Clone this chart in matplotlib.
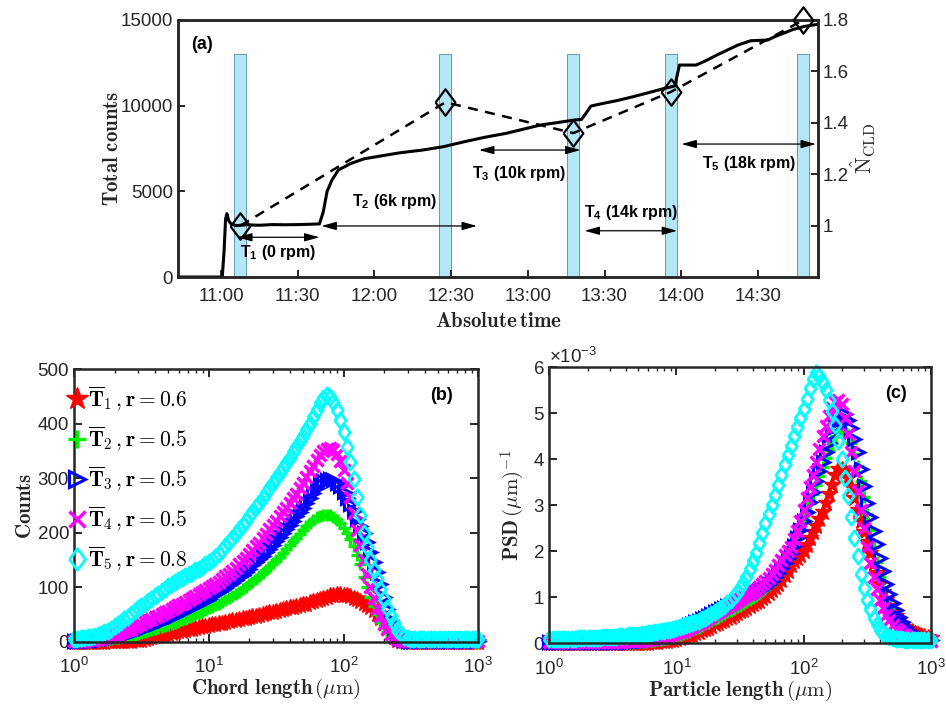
import matplotlib
matplotlib.use('Agg')
import matplotlib.pyplot as plt
from matplotlib.font_manager import FontProperties
from matplotlib.ticker import LogLocator, NullFormatter, ScalarFormatter

plt.rcParams['font.family'] = ['Liberation Sans', 'DejaVu Sans']
plt.rcParams['mathtext.fontset'] = 'custom'
plt.rcParams['mathtext.rm'] = 'Liberation Sans'
plt.rcParams['mathtext.it'] = 'Liberation Sans:italic'
plt.rcParams['mathtext.bf'] = 'Liberation Sans:bold'

# ---------------- Panel (a) data ----------------
time_ticks = [0, 30, 60, 90, 120, 150, 180, 210]          # minutes after 11:00
time_labels = ['11:00', '11:30', '12:00', '12:30', '13:00', '13:30', '14:00', '14:30']

count_time = [-17, 0.5, 1.2, 1.8, 2.3, 3.0, 4.0, 6, 10, 15, 20, 25, 30, 35, 38.5,
              40, 41.5, 43.4, 45.9, 50.8, 56, 62.3, 70, 78.8, 87.1, 95.3, 103,
              111.7, 118, 124.9, 131, 138, 141, 142.5, 144.7, 150, 155, 161.1,
              167, 173.5, 177.5, 179.3, 185.8, 190, 194, 202.2, 207.2, 213.8,
              217.1, 223.8, 228, 233.5]
count_vals = [0, 0, 1500, 3400, 3700, 3300, 3080, 3000, 3050, 3020, 3060, 3050,
              3060, 3080, 3100, 3800, 5000, 5660, 6245, 6630, 6900, 7060, 7250,
              7410, 7610, 7900, 8150, 8390, 8620, 8870, 9000, 9160, 9200, 9500,
              9980, 10150, 10300, 10520, 10750, 11010, 11150, 12370, 12370, 12650,
              12960, 13540, 13790, 13830, 14060, 14450, 14620, 14750]

sample_time = [7.6, 87.8, 137.8, 175.9, 227.8]   # bar / diamond centres
n_cld = [1.0, 1.48, 1.36, 1.52, 1.80]
bar_top = 13000

interval_labels = [r'T$_\mathbf{1}$ (0 rpm)', r'T$_\mathbf{2}$ (6k rpm)',
                   r'T$_\mathbf{3}$ (10k rpm)', r'T$_\mathbf{4}$ (14k rpm)',
                   r'T$_\mathbf{5}$ (18k rpm)']
interval_start = [6.3, 39.3, 100.9, 142.2, 180.1]
interval_end = [38.5, 100.1, 140.6, 178.4, 232.7]
interval_arrow_y = [2320, 2980, 7410, 2700, 7760]
interval_text_x = [22.3, 68.1, 116.6, 160.6, 206.4]
interval_text_y = [1460, 4400, 6070, 3780, 6640]

# ---------------- Panels (b), (c) data ----------------
length_bins = [1.00, 1.06, 1.12, 1.19, 1.26, 1.33, 1.41, 1.50, 1.58, 1.68,
               1.78, 1.88, 2.00, 2.11, 2.24, 2.37, 2.51, 2.66, 2.82, 2.99,
               3.16, 3.35, 3.55, 3.76, 3.98, 4.22, 4.47, 4.73, 5.01, 5.31,
               5.62, 5.96, 6.31, 6.68, 7.08, 7.50, 7.94, 8.41, 8.91, 9.44,
               10.0, 10.6, 11.2, 11.9, 12.6, 13.3, 14.1, 15.0, 15.8, 16.8,
               17.8, 18.8, 20.0, 21.1, 22.4, 23.7, 25.1, 26.6, 28.2, 29.9,
               31.6, 33.5, 35.5, 37.6, 39.8, 42.2, 44.7, 47.3, 50.1, 53.1,
               56.2, 59.6, 63.1, 66.8, 70.8, 75.0, 79.4, 84.1, 89.1, 94.4,
               100, 106, 112, 119, 126, 133, 141, 150, 158, 168,
               178, 188, 200, 211, 224, 237, 251, 266, 282, 299,
               316, 335, 355, 376, 398, 422, 447, 473, 501, 531,
               562, 596, 631, 668, 708, 750, 794, 841, 891, 944, 1000]

cld_T1 = [0, 0, 0, 0, 0, 0, 0, 0, 0, 0,
          1, 1, 1, 1, 2, 2, 2, 2, 3, 3,
          4, 5, 7, 8, 10, 11, 12, 13, 15, 16,
          18, 19, 20, 21, 23, 24, 26, 27, 28, 29,
          31, 32, 33, 34, 35, 36, 38, 39, 40, 41,
          43, 44, 46, 47, 48, 49, 51, 52, 54, 55,
          57, 58, 60, 61, 63, 64, 66, 67, 69, 70,
          72, 74, 76, 78, 80, 82, 85, 86, 87, 87,
          86, 85, 83, 81, 78, 75, 71, 67, 63, 58,
          51, 43, 34, 25, 16, 9, 4, 2, 1, 0,
          0, 0, 0, 0, 0, 0, 0, 0, 0, 0,
          0, 0, 0, 0, 0, 0, 0, 0, 0, 0, 0]
cld_T2 = [0, 0, 1, 1, 1, 1, 2, 2, 3, 3,
          4, 5, 6, 7, 8, 9, 10, 11, 13, 14,
          16, 17, 19, 21, 23, 25, 27, 29, 31, 33,
          35, 37, 40, 42, 45, 47, 50, 52, 55, 58,
          61, 64, 67, 70, 73, 76, 80, 84, 88, 92,
          96, 100, 105, 110, 115, 120, 126, 132, 138, 144,
          150, 156, 163, 170, 177, 184, 191, 198, 205, 212,
          218, 223, 228, 231, 233, 233, 232, 229, 224, 217,
          208, 199, 188, 175, 160, 143, 118, 100, 82, 65,
          50, 37, 26, 17, 10, 5, 2, 1, 0, 0,
          0, 0, 0, 0, 0, 0, 0, 0, 0, 0,
          0, 0, 0, 0, 0, 0, 0, 0, 0, 0, 0]
cld_T3 = [1, 1, 1, 1, 2, 2, 3, 3, 4, 5,
          6, 7, 9, 10, 12, 13, 15, 17, 19, 21,
          23, 25, 28, 30, 33, 35, 38, 40, 43, 45,
          48, 51, 54, 57, 60, 63, 66, 69, 72, 75,
          79, 83, 87, 91, 95, 99, 104, 108, 113, 118,
          123, 128, 134, 140, 146, 152, 158, 164, 171, 178,
          185, 192, 199, 206, 214, 222, 230, 238, 246, 255,
          264, 273, 282, 289, 295, 297, 298, 296, 292, 285,
          275, 264, 252, 239, 225, 213, 200, 183, 165, 147,
          128, 105, 82, 60, 40, 24, 12, 6, 3, 1,
          1, 1, 1, 1, 1, 1, 1, 1, 1, 1,
          1, 1, 1, 1, 1, 1, 1, 1, 1, 1, 1]
cld_T4 = [2, 2, 2, 2, 3, 3, 4, 5, 6, 7,
          9, 11, 13, 15, 17, 19, 22, 24, 27, 30,
          33, 36, 39, 42, 45, 48, 51, 54, 57, 60,
          64, 67, 70, 73, 77, 80, 84, 87, 91, 94,
          98, 102, 106, 110, 115, 120, 125, 130, 136, 142,
          148, 154, 161, 168, 175, 182, 190, 198, 206, 214,
          222, 230, 238, 246, 255, 263, 272, 282, 292, 302,
          313, 323, 333, 342, 350, 354, 355, 352, 345, 332,
          315, 292, 265, 236, 205, 177, 150, 124, 100, 80,
          62, 47, 33, 23, 14, 9, 5, 3, 2, 2,
          2, 2, 2, 2, 2, 2, 2, 2, 2, 2,
          2, 2, 2, 2, 2, 2, 2, 2, 2, 2, 2]
cld_T5 = [5, 5, 6, 7, 8, 9, 10, 12, 14, 17,
          20, 24, 28, 32, 37, 41, 46, 51, 56, 61,
          66, 70, 75, 79, 84, 88, 93, 97, 102, 106,
          110, 113, 117, 120, 124, 127, 131, 134, 138, 142,
          146, 150, 155, 161, 168, 175, 183, 190, 198, 206,
          214, 222, 230, 238, 247, 255, 264, 273, 282, 291,
          300, 309, 319, 328, 338, 348, 358, 368, 378, 389,
          400, 412, 425, 438, 447, 452, 449, 440, 425, 407,
          385, 358, 330, 298, 265, 232, 200, 174, 150, 132,
          115, 96, 78, 62, 48, 34, 22, 14, 8, 6,
          5, 5, 5, 5, 5, 5, 5, 5, 5, 5,
          5, 5, 5, 5, 5, 5, 5, 5, 5, 5, 5]

# PSD values in units of 1e-3 (um)^-1
psd_T1 = [0.01, 0.01, 0.01, 0.01, 0.01, 0.01, 0.01, 0.01, 0.01, 0.01,
          0.01, 0.01, 0.01, 0.01, 0.01, 0.01, 0.01, 0.01, 0.01, 0.01,
          0.01, 0.01, 0.01, 0.01, 0.01, 0.01, 0.01, 0.01, 0.01, 0.01,
          0.01, 0.01, 0.02, 0.02, 0.03, 0.04, 0.05, 0.06, 0.07, 0.08,
          0.10, 0.11, 0.13, 0.15, 0.17, 0.19, 0.22, 0.25, 0.28, 0.31,
          0.34, 0.37, 0.41, 0.44, 0.48, 0.51, 0.55, 0.58, 0.62, 0.66,
          0.70, 0.73, 0.77, 0.81, 0.85, 0.89, 0.93, 0.98, 1.03, 1.09,
          1.15, 1.22, 1.30, 1.38, 1.48, 1.58, 1.70, 1.78, 1.86, 1.93,
          2.00, 2.14, 2.28, 2.42, 2.55, 2.70, 2.85, 3.05, 3.25, 3.45,
          3.65, 3.78, 3.80, 3.75, 3.60, 3.40, 3.15, 2.90, 2.65, 2.42,
          2.20, 1.97, 1.75, 1.52, 1.30, 1.12, 0.95, 0.82, 0.70, 0.60,
          0.50, 0.43, 0.36, 0.31, 0.26, 0.23, 0.20, 0.17, 0.15, 0.13, 0.12]
psd_T2 = [0.01, 0.01, 0.01, 0.01, 0.01, 0.01, 0.01, 0.01, 0.01, 0.01,
          0.01, 0.01, 0.01, 0.01, 0.01, 0.01, 0.01, 0.01, 0.01, 0.01,
          0.01, 0.01, 0.01, 0.01, 0.01, 0.01, 0.01, 0.01, 0.02, 0.02,
          0.03, 0.04, 0.05, 0.06, 0.07, 0.08, 0.09, 0.10, 0.12, 0.14,
          0.16, 0.18, 0.20, 0.22, 0.25, 0.28, 0.31, 0.34, 0.38, 0.41,
          0.45, 0.48, 0.52, 0.56, 0.60, 0.63, 0.67, 0.71, 0.75, 0.79,
          0.82, 0.86, 0.90, 0.94, 0.98, 1.03, 1.08, 1.14, 1.20, 1.27,
          1.34, 1.42, 1.51, 1.61, 1.72, 1.84, 1.97, 2.12, 2.28, 2.46,
          2.64, 2.84, 3.04, 3.24, 3.44, 3.64, 3.84, 4.02, 4.20, 4.36,
          4.50, 4.60, 4.65, 4.62, 4.52, 4.35, 4.12, 3.85, 3.52, 3.18,
          2.82, 2.46, 2.10, 1.76, 1.45, 1.18, 0.95, 0.76, 0.60, 0.47,
          0.37, 0.29, 0.23, 0.18, 0.15, 0.13, 0.11, 0.10, 0.09, 0.09, 0.09]
psd_T3 = [0.02, 0.02, 0.02, 0.02, 0.02, 0.02, 0.02, 0.02, 0.02, 0.02,
          0.02, 0.02, 0.02, 0.02, 0.02, 0.02, 0.02, 0.02, 0.02, 0.02,
          0.02, 0.02, 0.02, 0.02, 0.02, 0.03, 0.04, 0.04, 0.05, 0.06,
          0.07, 0.08, 0.09, 0.10, 0.12, 0.14, 0.16, 0.18, 0.20, 0.23,
          0.26, 0.29, 0.32, 0.35, 0.39, 0.42, 0.46, 0.49, 0.53, 0.56,
          0.60, 0.63, 0.67, 0.70, 0.74, 0.77, 0.81, 0.84, 0.88, 0.90,
          0.92, 0.95, 0.98, 1.02, 1.05, 1.09, 1.13, 1.18, 1.23, 1.29,
          1.36, 1.44, 1.53, 1.63, 1.74, 1.85, 1.97, 2.12, 2.28, 2.46,
          2.65, 2.86, 3.07, 3.30, 3.52, 3.74, 3.95, 4.16, 4.36, 4.55,
          4.70, 4.83, 4.93, 4.98, 4.85, 4.68, 4.45, 4.15, 3.80, 3.43,
          3.05, 2.75, 2.45, 2.15, 1.85, 1.57, 1.30, 1.08, 0.88, 0.72,
          0.57, 0.46, 0.36, 0.29, 0.23, 0.19, 0.15, 0.13, 0.11, 0.09, 0.08]
psd_T4 = [0.02, 0.02, 0.02, 0.02, 0.02, 0.02, 0.02, 0.02, 0.02, 0.02,
          0.02, 0.02, 0.02, 0.02, 0.02, 0.02, 0.02, 0.02, 0.02, 0.02,
          0.02, 0.02, 0.03, 0.03, 0.04, 0.04, 0.05, 0.05, 0.06, 0.06,
          0.07, 0.08, 0.09, 0.10, 0.11, 0.12, 0.14, 0.16, 0.18, 0.20,
          0.22, 0.24, 0.27, 0.30, 0.33, 0.36, 0.40, 0.43, 0.47, 0.51,
          0.55, 0.59, 0.63, 0.67, 0.72, 0.76, 0.80, 0.84, 0.88, 0.92,
          0.96, 1.00, 1.04, 1.08, 1.12, 1.17, 1.22, 1.28, 1.35, 1.42,
          1.50, 1.60, 1.70, 1.82, 1.92, 2.01, 2.10, 2.27, 2.45, 2.67,
          2.90, 3.15, 3.40, 3.67, 3.95, 4.22, 4.50, 4.73, 4.95, 5.12,
          5.25, 5.29, 5.20, 4.90, 4.55, 4.15, 3.75, 3.32, 2.90, 2.50,
          2.10, 1.75, 1.45, 1.18, 0.95, 0.77, 0.62, 0.50, 0.40, 0.32,
          0.26, 0.21, 0.17, 0.14, 0.12, 0.10, 0.09, 0.08, 0.07, 0.07, 0.06]
psd_T5 = [0.09, 0.09, 0.09, 0.09, 0.10, 0.10, 0.10, 0.10, 0.10, 0.11,
          0.11, 0.11, 0.11, 0.12, 0.12, 0.12, 0.12, 0.13, 0.13, 0.13,
          0.14, 0.14, 0.15, 0.15, 0.16, 0.17, 0.17, 0.18, 0.19, 0.20,
          0.21, 0.22, 0.23, 0.24, 0.25, 0.26, 0.27, 0.29, 0.30, 0.32,
          0.33, 0.35, 0.37, 0.39, 0.41, 0.44, 0.46, 0.49, 0.52, 0.56,
          0.59, 0.63, 0.67, 0.72, 0.77, 0.82, 0.88, 0.94, 1.02, 1.10,
          1.20, 1.32, 1.45, 1.61, 1.78, 1.97, 2.18, 2.40, 2.62, 2.82,
          3.00, 3.22, 3.45, 3.67, 3.90, 4.10, 4.30, 4.50, 4.70, 4.90,
          5.10, 5.32, 5.55, 5.75, 5.88, 5.82, 5.65, 5.50, 5.30, 5.05,
          4.75, 4.40, 4.00, 3.60, 3.20, 2.75, 2.30, 1.90, 1.50, 1.20,
          0.95, 0.74, 0.55, 0.41, 0.30, 0.23, 0.18, 0.14, 0.12, 0.10,
          0.09, 0.09, 0.08, 0.08, 0.08, 0.08, 0.07, 0.07, 0.07, 0.07, 0.07]

series_names = [r'$\overline{\mathbf{T}}_\mathbf{1}\,,\mathbf{r=0.6}$',
                r'$\overline{\mathbf{T}}_\mathbf{2}\,,\mathbf{r=0.5}$',
                r'$\overline{\mathbf{T}}_\mathbf{3}\,,\mathbf{r=0.5}$',
                r'$\overline{\mathbf{T}}_\mathbf{4}\,,\mathbf{r=0.5}$',
                r'$\overline{\mathbf{T}}_\mathbf{5}\,,\mathbf{r=0.8}$']
cld_series = [cld_T1, cld_T2, cld_T3, cld_T4, cld_T5]
psd_series = [psd_T1, psd_T2, psd_T3, psd_T4, psd_T5]

# ---------------- styles ----------------
ink = '#262626'
diamond = [(-0.75, 0), (0, 1), (0.75, 0), (0, -1), (-0.75, 0)]
styles = [dict(marker='*', color='#FF0000', mfc='#FF0000', ms=12, mew=1.0),
          dict(marker='+', color='#00EE00', mfc='none', ms=9, mew=2.4),
          dict(marker='>', color='#0000FF', mfc='none', ms=8.5, mew=2.2),
          dict(marker='x', color='#FF00FF', mfc='none', ms=8, mew=2.5),
          dict(marker=diamond, color='#00FFFF', mfc='none', ms=11, mew=2.0)]

fig = plt.figure(figsize=(9.46, 7.04), dpi=100)
axA = fig.add_axes([0.1882, 0.6065, 0.6765, 0.3651])
axB = fig.add_axes([0.0782, 0.0885, 0.4274, 0.3869])
axC = fig.add_axes([0.5807, 0.0862, 0.4032, 0.3920])

def style_spines(ax):
    for s in ax.spines.values():
        s.set_linewidth(1.8)
        s.set_color(ink)

# ---------------- Panel (a) ----------------
axA.bar(sample_time, [bar_top] * len(sample_time), width=4.7, color='#B3E7F8',
        edgecolor='#4F8AA6', linewidth=0.6, zorder=1)
axA.plot(count_time, count_vals, color='k', lw=2.2, zorder=3)
axA.set_xlim(-16.8, 233.5)
axA.set_ylim(0, 15000)
axA.set_yticks([0, 5000, 10000, 15000])
axA.set_xticks(time_ticks)
axA.set_xticklabels(time_labels)
axA.tick_params(axis='both', direction='in', length=5, width=1.4, colors=ink,
                labelsize=13.5, top=False, right=False)
axA.tick_params(axis='x', pad=8)
axA.set_ylabel(r'$\mathbf{Total\ counts}$', fontsize=15, math_fontfamily='cm',
               color=ink, labelpad=-1)
axA.set_xlabel(r'$\mathbf{Absolute\,time}$', fontsize=15, math_fontfamily='cm',
               color=ink, labelpad=5)
style_spines(axA)

for x0, x1, ya, tx, ty, lab in zip(interval_start, interval_end, interval_arrow_y,
                                    interval_text_x, interval_text_y, interval_labels):
    axA.annotate('', xy=(x1, ya), xytext=(x0, ya), zorder=4,
                 arrowprops=dict(arrowstyle='<|-|>,head_length=0.9,head_width=0.25',
                                 lw=0.9, color='k', shrinkA=0, shrinkB=0,
                                 mutation_scale=10))
    axA.text(tx, ty, lab, ha='center', va='center', fontsize=11.5,
             fontweight='bold', color='k', zorder=5)
axA.text(0.037, 0.905, '(a)', transform=axA.transAxes, ha='center', va='center',
         fontsize=13, fontweight='bold')

axR = axA.twinx()
axR.plot(sample_time, n_cld, color='k', lw=1.8, ls=(0, (4, 3)), marker=diamond,
         ms=19, mfc='none', mec='k', mew=1.6, zorder=4, clip_on=False)
axR.set_ylim(0.8, 1.8)
axR.set_yticks([1, 1.2, 1.4, 1.6, 1.8])
axR.set_yticklabels(['1', '1.2', '1.4', '1.6', '1.8'])
axR.tick_params(axis='y', direction='in', length=5, width=1.4, colors=ink,
                labelsize=13.5)
axR.set_ylabel(r'$\hat{\mathrm{N}}_{\mathrm{CLD}}$', fontsize=16, math_fontfamily='cm',
               color=ink, labelpad=0)
style_spines(axR)

# ---------------- Panels (b), (c) ----------------
def log_panel(ax):
    ax.set_xscale('log')
    ax.set_xlim(1, 1000)
    ax.xaxis.set_minor_locator(LogLocator(base=10, subs=range(2, 10)))
    ax.xaxis.set_minor_formatter(NullFormatter())
    ax.tick_params(which='both', direction='in', top=True, right=True, colors=ink,
                   labelsize=13.5)
    ax.tick_params(which='major', length=6, width=1.4)
    ax.tick_params(which='minor', length=3, width=1.0)
    ax.tick_params(axis='x', pad=11)
    style_spines(ax)

handles = []
for vals, st, name in zip(cld_series, styles, series_names):
    h, = axB.plot(length_bins, vals, ls='none', marker=st['marker'], ms=st['ms'],
                  mfc=st['mfc'], mec=st['color'], mew=st['mew'], clip_on=False,
                  label=name)
    handles.append(h)
axB.set_ylim(0, 500)
axB.set_yticks([0, 100, 200, 300, 400, 500])
log_panel(axB)
axB.set_ylabel(r'$\mathbf{Counts}$', fontsize=15, math_fontfamily='cm', color=ink,
               labelpad=2)
axB.set_xlabel(r'$\mathbf{Chord\ length}\,(\mu\mathrm{m})$', fontsize=15,
               math_fontfamily='cm', color=ink, labelpad=0)
axB.text(0.91, 0.905, '(b)', transform=axB.transAxes, ha='center', va='center',
         fontsize=13, fontweight='bold')
leg = axB.legend(handles=handles, loc='upper left', bbox_to_anchor=(-0.035, 0.975),
                 frameon=False, markerscale=1.4, handlelength=0.8,
                 handletextpad=0.1, labelspacing=0.55, borderaxespad=0,
                 prop=FontProperties(size=15.5, math_fontfamily='cm'))

for vals, st in zip(psd_series, styles):
    axC.plot(length_bins, [v * 1e-3 for v in vals], ls='none', marker=st['marker'],
             ms=st['ms'], mfc=st['mfc'], mec=st['color'], mew=st['mew'], clip_on=False)
axC.set_ylim(0, 0.006)
axC.set_yticks([0, 0.001, 0.002, 0.003, 0.004, 0.005, 0.006])
fmt = ScalarFormatter(useMathText=True)
fmt.set_powerlimits((0, 0))
axC.yaxis.set_major_formatter(fmt)
axC.yaxis.get_offset_text().set_fontsize(13.5)
axC.yaxis.get_offset_text().set_color(ink)
log_panel(axC)
axC.set_ylabel(r'$\mathbf{PSD}\,(\mu\mathrm{m})^{-1}$', fontsize=15,
               math_fontfamily='cm', color=ink, labelpad=4)
axC.set_xlabel(r'$\mathbf{Particle\ length}\,(\mu\mathrm{m})$', fontsize=15,
               math_fontfamily='cm', color=ink, labelpad=0)
axC.text(0.91, 0.905, '(c)', transform=axC.transAxes, ha='center', va='center',
         fontsize=13, fontweight='bold')

fig.savefig('out.png', dpi=100)
